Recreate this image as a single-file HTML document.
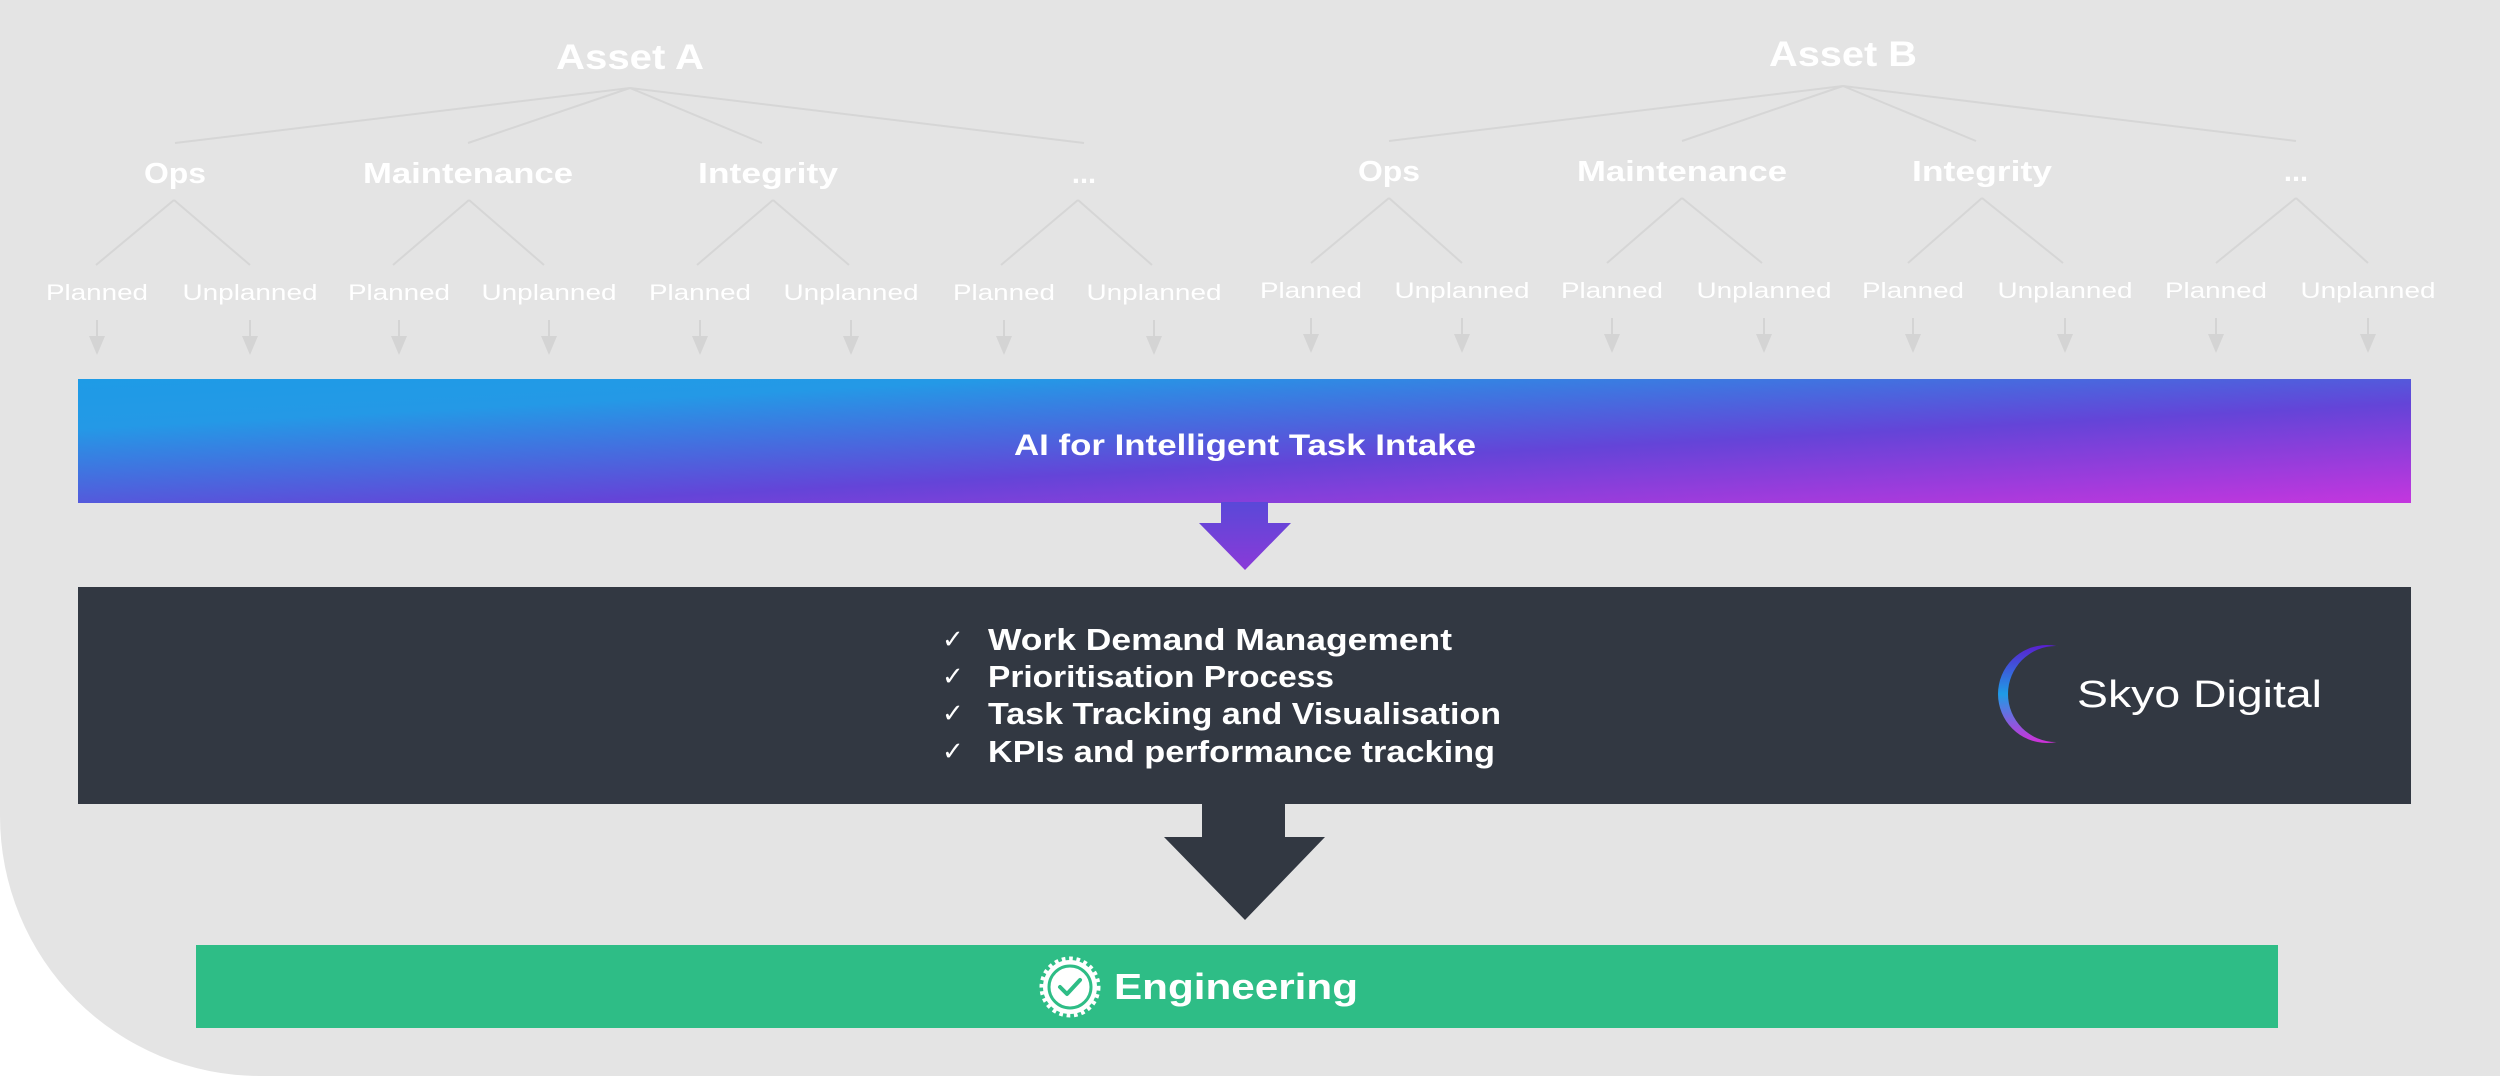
<!DOCTYPE html>
<html><head><meta charset="utf-8"><style>
html,body{margin:0;padding:0;background:#fff;}
svg{display:block;}
text{font-family:"Liberation Sans",sans-serif;}
</style></head><body>
<svg width="2500" height="1076" viewBox="0 0 2500 1076" xmlns="http://www.w3.org/2000/svg">
<defs>
<linearGradient id="g1" x1="0" y1="0" x2="1" y2="1" gradientUnits="objectBoundingBox">
<stop offset="0" stop-color="#1e9be6"/>
<stop offset="0.2" stop-color="#2499e6"/>
<stop offset="0.6" stop-color="#6444d8"/>
<stop offset="1" stop-color="#c436de"/>
</linearGradient>
<linearGradient id="g2" x1="0" y1="0" x2="0" y2="1">
<stop offset="0" stop-color="#5a48d8"/>
<stop offset="1" stop-color="#8a3ad8"/>
</linearGradient>
<linearGradient id="g3" gradientUnits="userSpaceOnUse" x1="0" y1="645" x2="0" y2="743">
<stop offset="0" stop-color="#5a1fd0"/>
<stop offset="0.5" stop-color="#1e9be6"/>
<stop offset="1" stop-color="#d030d8"/>
</linearGradient>
<mask id="cm">
<rect x="1980" y="630" width="80" height="130" fill="#fff"/>
<circle cx="2056" cy="694" r="48" fill="#000"/>
</mask>
</defs>
<path d="M0 0 H2500 V1076 H260 A260 260 0 0 1 0 816 Z" fill="#e4e4e4"/>

<g fill="#fff" font-weight="bold" text-anchor="middle" font-size="35">
<text x="630" y="69" textLength="148" lengthAdjust="spacingAndGlyphs">Asset A</text>
<text x="1843" y="66" textLength="148" lengthAdjust="spacingAndGlyphs">Asset B</text>
</g>
<g stroke="#d6d6d6" stroke-width="2" fill="none">
<path d="M630 88 L175 143 M630 88 L468 143 M630 88 L762 143 M630 88 L1084 143"/>
<path d="M1843 86 L1389 141 M1843 86 L1682 141 M1843 86 L1976 141 M1843 86 L2296 141"/>
<path d="M174 200 L96 265 M174 200 L250 265 M469 200 L393 265 M469 200 L544 265 M773 200 L697 265 M773 200 L849 265 M1078 200 L1001 265 M1078 200 L1152 265"/>
<path d="M1389 198 L1311 263 M1389 198 L1462 263 M1682 198 L1607 263 M1682 198 L1762 263 M1982 198 L1908 263 M1982 198 L2063 263 M2296 198 L2216 263 M2296 198 L2368 263"/>
</g>
<g fill="#fff" font-weight="bold" text-anchor="middle" font-size="29">
<text x="175" y="183" textLength="62" lengthAdjust="spacingAndGlyphs">Ops</text><text x="468" y="183" textLength="210" lengthAdjust="spacingAndGlyphs">Maintenance</text><text x="768" y="183" textLength="140" lengthAdjust="spacingAndGlyphs">Integrity</text><text x="1084" y="183">...</text>
<text x="1389" y="181" textLength="62" lengthAdjust="spacingAndGlyphs">Ops</text><text x="1682" y="181" textLength="210" lengthAdjust="spacingAndGlyphs">Maintenance</text><text x="1982" y="181" textLength="140" lengthAdjust="spacingAndGlyphs">Integrity</text><text x="2296" y="181">...</text>
</g>
<g fill="#fff" text-anchor="middle" font-size="22">
<text x="97" y="300" textLength="102" lengthAdjust="spacingAndGlyphs">Planned</text><text x="250" y="300" textLength="135" lengthAdjust="spacingAndGlyphs">Unplanned</text>
<text x="399" y="300" textLength="102" lengthAdjust="spacingAndGlyphs">Planned</text><text x="549" y="300" textLength="135" lengthAdjust="spacingAndGlyphs">Unplanned</text>
<text x="700" y="300" textLength="102" lengthAdjust="spacingAndGlyphs">Planned</text><text x="851" y="300" textLength="135" lengthAdjust="spacingAndGlyphs">Unplanned</text>
<text x="1004" y="300" textLength="102" lengthAdjust="spacingAndGlyphs">Planned</text><text x="1154" y="300" textLength="135" lengthAdjust="spacingAndGlyphs">Unplanned</text>
<text x="1311" y="298" textLength="102" lengthAdjust="spacingAndGlyphs">Planned</text><text x="1462" y="298" textLength="135" lengthAdjust="spacingAndGlyphs">Unplanned</text>
<text x="1612" y="298" textLength="102" lengthAdjust="spacingAndGlyphs">Planned</text><text x="1764" y="298" textLength="135" lengthAdjust="spacingAndGlyphs">Unplanned</text>
<text x="1913" y="298" textLength="102" lengthAdjust="spacingAndGlyphs">Planned</text><text x="2065" y="298" textLength="135" lengthAdjust="spacingAndGlyphs">Unplanned</text>
<text x="2216" y="298" textLength="102" lengthAdjust="spacingAndGlyphs">Planned</text><text x="2368" y="298" textLength="135" lengthAdjust="spacingAndGlyphs">Unplanned</text>
</g>
<g fill="#d4d4d4" stroke="#d4d4d4" stroke-width="2">
<g id="a1"><line x1="97" y1="320" x2="97" y2="337"/><path d="M89 336 L105 336 L97 355 Z" stroke="none"/></g>
<use href="#a1" x="153"/><use href="#a1" x="302"/><use href="#a1" x="452"/>
<use href="#a1" x="603"/><use href="#a1" x="754"/><use href="#a1" x="907"/><use href="#a1" x="1057"/>
<use href="#a1" x="1214" y="-2"/><use href="#a1" x="1365" y="-2"/><use href="#a1" x="1515" y="-2"/><use href="#a1" x="1667" y="-2"/>
<use href="#a1" x="1816" y="-2"/><use href="#a1" x="1968" y="-2"/><use href="#a1" x="2119" y="-2"/><use href="#a1" x="2271" y="-2"/>
</g>

<rect x="78" y="379" width="2333" height="124" fill="url(#g1)"/>
<text x="1245" y="455" font-size="30" font-weight="bold" fill="#fff" text-anchor="middle" textLength="462" lengthAdjust="spacingAndGlyphs">AI for Intelligent Task Intake</text>
<path d="M1221 502 H1268 V523 H1291 L1245 570 L1199 523 H1221 Z" fill="url(#g2)"/>

<rect x="78" y="587" width="2333" height="217" fill="#323842"/>
<g fill="#fff" font-size="31" font-weight="bold">
<text x="988" y="650" textLength="464" lengthAdjust="spacingAndGlyphs">Work Demand Management</text>
<text x="988" y="687" textLength="346" lengthAdjust="spacingAndGlyphs">Prioritisation Process</text>
<text x="988" y="724" textLength="513" lengthAdjust="spacingAndGlyphs">Task Tracking and Visualisation</text>
<text x="988" y="762" textLength="507" lengthAdjust="spacingAndGlyphs">KPIs and performance tracking</text>
</g>
<g fill="#fff" font-size="26">
<text x="942" y="648">✓</text><text x="942" y="685">✓</text><text x="942" y="722">✓</text><text x="942" y="760">✓</text>
</g>
<circle cx="2047" cy="694" r="49" fill="url(#g3)" mask="url(#cm)"/>
<text x="2077" y="707" font-size="38" fill="#fff" textLength="245" lengthAdjust="spacingAndGlyphs">Skyo Digital</text>

<path d="M1202 802 H1285 V837 H1325 L1245 920 L1164 837 H1202 Z" fill="#323842"/>

<rect x="196" y="945" width="2082" height="83" fill="#2ebd86"/>
<circle cx="1070" cy="987" r="27" fill="#fff"/>
<circle cx="1070" cy="987" r="28.5" fill="none" stroke="#fff" stroke-width="4" stroke-dasharray="3.7 3.7"/>
<circle cx="1070" cy="987" r="21" fill="none" stroke="#2ebd86" stroke-width="3"/>
<path d="M1060 987 L1067 994 L1080 980" fill="none" stroke="#2ebd86" stroke-width="4" stroke-linecap="round" stroke-linejoin="round"/>
<text x="1114" y="999" font-size="36" font-weight="bold" fill="#fff" textLength="244" lengthAdjust="spacingAndGlyphs">Engineering</text>
</svg>
</body></html>
